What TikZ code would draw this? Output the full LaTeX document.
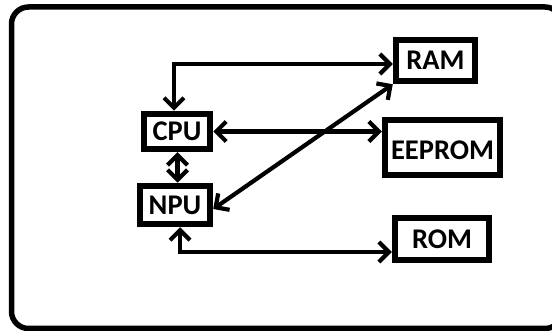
\documentclass[tikz,border=0pt]{standalone}
\usepackage{fontspec}
\setmainfont{Carlito}
\usetikzlibrary{arrows.meta}
\tikzset{
  blk/.style={draw=black, line width=6.5pt, fill=white, inner sep=0pt,
    font=\bfseries\fontsize{28.5}{28.5}\selectfont, text height=18.4pt, text depth=0pt},
  conn/.style={line width=4.2pt, {Straight Barb[length=10pt,width=20pt]}-{Straight Barb[length=10pt,width=20pt]}},
}
\begin{document}
\begin{tikzpicture}[x=1pt,y=-1pt]
\useasboundingbox (0,0) rectangle (552,331);
\begin{scope}
\clip (0,0) rectangle (552,331);
\draw[line width=5.5pt, rounded corners=17pt] (11.5,7) rectangle (562,328.5);
\end{scope}
\node[blk, minimum width=79pt, minimum height=41pt] (ram) at (435.5,60.5) {RAM};
\node[blk, minimum width=66pt, minimum height=35pt] (cpu) at (177,131.5) {CPU};
\node[blk, minimum width=115pt, minimum height=55pt, text height=24.4pt] (eeprom) at (442.5,147.5) {EEPROM};
\node[blk, minimum width=70pt, minimum height=38pt] (npu) at (175,205) {NPU};
\node[blk, minimum width=94pt, minimum height=42pt] (rom) at (442,239) {ROM};
\coordinate (c1) at (174,64);
\coordinate (c2) at (180,252);
\coordinate (c3) at (177.5,0);
\draw[conn] (cpu.north -| c1) |- (ram.west |- c1);
\draw[conn] (cpu.east) -- (cpu.east -| eeprom.west);
\draw[conn] (cpu.south -| c3) -- (npu.north -| c3);
\draw[conn] ([yshift=-4pt]npu.east) -- (ram.south west);
\draw[conn] (npu.south -| c2) |- (rom.west |- c2);
\end{tikzpicture}
\end{document}
